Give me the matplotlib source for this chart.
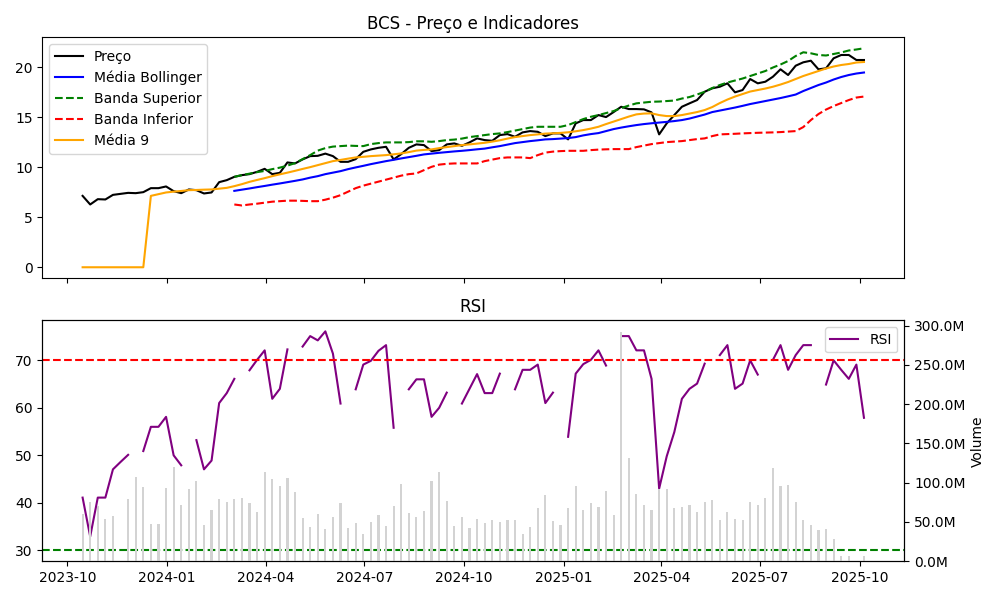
import numpy as np
import pandas as pd
import matplotlib
matplotlib.use("Agg")
import matplotlib.pyplot as plt
from matplotlib.ticker import FuncFormatter

nan = np.nan

# semanas (104 pontos)
datas = pd.date_range("2023-10-15", periods=104, freq="W")

preco = [7.13, 6.27, 6.80, 6.77, 7.23, 7.33, 7.43, 7.40, 7.50, 7.90,
         7.90, 8.07, 7.60, 7.40, 7.77, 7.70, 7.37, 7.47, 8.50, 8.70,
         9.03, 9.20, 9.30, 9.53, 9.83, 9.30, 9.43, 10.47, 10.37, 10.77,
         11.10, 11.13, 11.35, 11.10, 10.53, 10.53, 10.80, 11.53, 11.77, 11.93,
         12.03, 10.77, 11.30, 11.93, 12.27, 12.20, 11.60, 11.70, 12.27, 12.37,
         12.13, 12.47, 12.87, 12.70, 12.63, 13.20, 13.30, 13.03, 13.47, 13.60,
         13.53, 13.10, 13.37, 13.37, 12.77, 14.37, 14.70, 14.70, 15.20, 15.00,
         15.50, 16.03, 15.80, 15.80, 15.77, 15.47, 13.27, 14.37, 15.20, 16.03,
         16.37, 16.70, 17.53, 17.87, 18.03, 18.37, 17.47, 17.70, 18.80, 18.37,
         18.53, 19.03, 19.77, 19.20, 20.13, 20.47, 20.63, 19.77, 19.87, 20.87,
         21.20, 21.20, 20.70, 20.70]

media9 = [0, 0, 0, 0, 0, 0, 0, 0, 0, 7.13,
          7.30, 7.47, 7.55, 7.62, 7.70, 7.72, 7.75, 7.77, 7.85, 7.93,
          8.10, 8.30, 8.53, 8.72, 8.90, 9.10, 9.28, 9.45, 9.63, 9.82,
          10.00, 10.20, 10.40, 10.60, 10.72, 10.85, 10.97, 11.03, 11.10, 11.15,
          11.20, 11.28, 11.37, 11.50, 11.65, 11.72, 11.77, 11.90, 12.00, 12.10,
          12.20, 12.27, 12.35, 12.43, 12.55, 12.68, 12.85, 13.00, 13.10, 13.20,
          13.27, 13.35, 13.38, 13.42, 13.48, 13.58, 13.70, 13.85, 14.03, 14.30,
          14.55, 14.80, 15.05, 15.27, 15.35, 15.37, 15.20, 15.10, 15.10, 15.20,
          15.35, 15.50, 15.70, 16.00, 16.40, 16.75, 17.05, 17.30, 17.55, 17.70,
          17.85, 18.03, 18.25, 18.50, 18.80, 19.10, 19.35, 19.60, 19.85, 20.05,
          20.20, 20.30, 20.45, 20.50]

bb_media = [nan] * 20 + [
    7.63, 7.75, 7.87, 8.00, 8.12, 8.25, 8.37, 8.50, 8.63, 8.77,
    8.95, 9.10, 9.30, 9.45, 9.60, 9.80, 9.97, 10.13, 10.30, 10.45,
    10.60, 10.73, 10.87, 11.00, 11.13, 11.27, 11.35, 11.43, 11.50, 11.57,
    11.63, 11.70, 11.78, 11.85, 11.98, 12.10, 12.25, 12.40, 12.50, 12.60,
    12.68, 12.77, 12.80, 12.85, 12.90, 13.00, 13.17, 13.30, 13.40, 13.60,
    13.80, 13.95, 14.08, 14.20, 14.30, 14.38, 14.45, 14.52, 14.60, 14.70,
    14.85, 15.05, 15.25, 15.50, 15.65, 15.80, 15.95, 16.12, 16.30, 16.45,
    16.60, 16.75, 16.90, 17.07, 17.25, 17.60, 17.90, 18.20, 18.45, 18.75,
    19.00, 19.20, 19.35, 19.45]

bb_sup = [nan] * 20 + [
    9.03, 9.20, 9.35, 9.50, 9.62, 9.80, 9.95, 10.15, 10.40, 10.80,
    11.20, 11.65, 11.90, 12.05, 12.10, 12.15, 12.12, 12.10, 12.30, 12.40,
    12.47, 12.47, 12.47, 12.50, 12.58, 12.58, 12.53, 12.60, 12.70, 12.75,
    12.85, 13.00, 13.10, 13.20, 13.30, 13.37, 13.50, 13.65, 13.80, 13.95,
    14.03, 14.03, 14.03, 14.03, 14.20, 14.50, 14.80, 15.03, 15.20, 15.40,
    15.60, 15.90, 16.15, 16.37, 16.45, 16.53, 16.55, 16.60, 16.65, 16.85,
    17.00, 17.25, 17.53, 17.90, 18.20, 18.45, 18.65, 18.85, 19.10, 19.35,
    19.60, 19.95, 20.25, 20.60, 21.10, 21.47, 21.37, 21.20, 21.15, 21.30,
    21.45, 21.65, 21.75, 21.87]

bb_inf = [nan] * 20 + [
    6.27, 6.17, 6.27, 6.35, 6.45, 6.55, 6.60, 6.65, 6.65, 6.63,
    6.60, 6.60, 6.75, 6.95, 7.20, 7.55, 7.90, 8.15, 8.35, 8.55,
    8.75, 8.95, 9.15, 9.30, 9.37, 9.70, 10.03, 10.25, 10.33, 10.37,
    10.37, 10.37, 10.37, 10.60, 10.75, 10.90, 10.97, 10.97, 10.97, 10.90,
    11.20, 11.45, 11.55, 11.60, 11.63, 11.63, 11.63, 11.70, 11.75, 11.78,
    11.80, 11.80, 11.80, 12.00, 12.15, 12.30, 12.40, 12.50, 12.55, 12.60,
    12.70, 12.80, 12.87, 13.10, 13.27, 13.30, 13.33, 13.37, 13.40, 13.43,
    13.45, 13.47, 13.50, 13.55, 13.60, 14.00, 14.70, 15.30, 15.75, 16.10,
    16.40, 16.70, 16.95, 17.05]

rsi = [41.1, 32.9, 41.1, 41.1, 47.05, 48.6, 50.1, nan, 50.9, 56.0,
       56.0, 58.1, 50.0, 47.9, nan, 53.2, 47.05, 48.9, 61.0, 63.1,
       66.1, nan, 67.9, 70.1, 72.1, 61.9, 64.0, 72.3, nan, 72.9,
       75.1, 74.2, 76.1, 71.4, 60.9, nan, 63.9, 69.1, 69.9, 72.0,
       73.2, 55.8, nan, 63.9, 66.0, 66.0, 58.1, 60.0, 63.2, nan,
       60.9, 64.0, 67.1, 63.1, 63.1, 67.2, nan, 63.9, 68.0, 68.0,
       69.1, 61.0, 63.2, nan, 53.9, 67.2, 69.2, 70.1, 72.1, 68.9,
       nan, 75.1, 75.1, 72.1, 72.1, 66.1, 43.0, 49.8, 54.9, 61.9,
       64.0, 65.1, 69.3, nan, 71.1, 73.2, 64.0, 65.1, 70.0, 67.0,
       nan, 70.1, 73.2, 68.0, 71.1, 73.2, 73.2, nan, 64.9, 70.0,
       68.0, 66.1, 69.1, 57.9]

# volume em milhões
volume = [60.0, 75.4, 70.2, 53.6, 57.5, 0, 79.2, 107.3, 94.5, 47.3,
          47.3, 93.2, 120.1, 71.5, 92.0, 102.2, 46.0, 65.1, 79.2, 75.4,
          79.2, 80.5, 74.1, 62.6, 113.7, 104.7, 95.8, 106.0, 88.1, 54.9,
          43.4, 60.0, 40.9, 56.2, 74.1, 42.1, 48.5, 34.5, 49.8, 58.7,
          44.7, 70.2, 98.3, 61.3, 56.2, 63.9, 102.2, 113.7, 76.6, 44.7,
          56.2, 42.1, 53.6, 48.5, 52.4, 49.8, 52.4, 52.4, 34.5, 43.4,
          67.7, 84.3, 51.1, 46.0, 67.7, 95.8, 65.1, 74.1, 69.0, 89.4,
          58.7, 292.0, 131.5, 86.0, 71.5, 65.1, 92.0, 92.0, 67.7, 69.0,
          71.5, 62.6, 75.4, 77.9, 52.4, 62.6, 53.6, 52.4, 75.4, 71.5,
          80.5, 118.8, 95.8, 97.5, 75.4, 52.4, 46.0, 39.6, 40.9, 28.1,
          6.4, 6.4, 0, 6.4]

fig, (ax1, ax2) = plt.subplots(2, 1, figsize=(10, 6), sharex=True)

ax1.plot(datas, preco, color="black", label="Preço")
ax1.plot(datas, bb_media, color="blue", label="Média Bollinger")
ax1.plot(datas, bb_sup, color="green", linestyle="--", label="Banda Superior")
ax1.plot(datas, bb_inf, color="red", linestyle="--", label="Banda Inferior")
ax1.plot(datas, media9, color="orange", label="Média 9")
ax1.set_title("BCS - Preço e Indicadores")
ax1.legend(loc="upper left")

ax2.plot(datas, rsi, color="purple", label="RSI")
ax2.axhline(70, color="red", linestyle="--")
ax2.axhline(30, color="green", linestyle="--")
ax2.set_title("RSI")
ax2.legend(loc="upper right")

ax3 = ax2.twinx()
ax3.bar(datas, np.array(volume) * 1e6, width=2, color="lightgray")
ax3.set_ylabel("Volume")
ax3.yaxis.set_major_formatter(FuncFormatter(lambda v, p: f"{v / 1e6:.1f}M"))

plt.tight_layout()
plt.savefig("out.png", dpi=100)
